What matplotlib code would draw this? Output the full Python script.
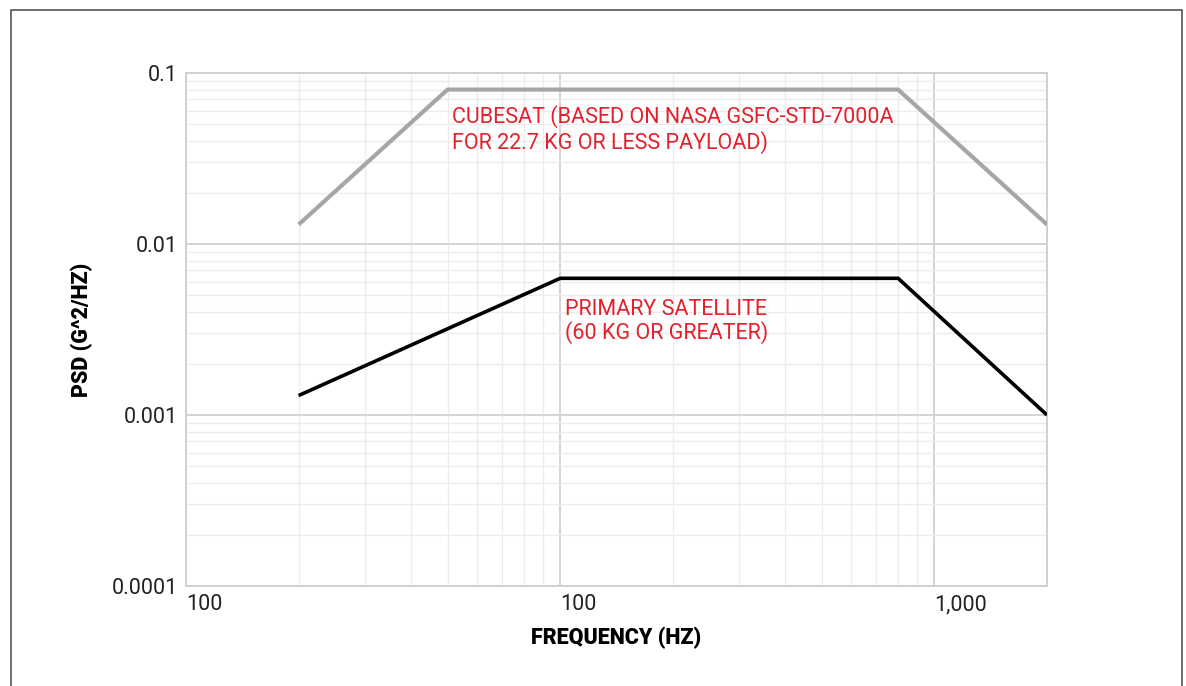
# Random vibration PSD levels: CubeSat vs primary satellite

import matplotlib.pyplot as plt
from matplotlib.lines import Line2D
from matplotlib.ticker import FixedLocator, LogLocator, NullFormatter

plt.rcParams['font.family'] = ['Roboto', 'DejaVu Sans']

# CubeSat (GSFC-STD-7000A style profile)
freq_cube = [20, 50, 800, 2000]
psd_cube = [0.013, 0.08, 0.08, 0.013]

# Primary satellite
freq_prim = [20, 100, 800, 2000]
psd_prim = [0.0013, 0.0063, 0.0063, 0.001]

x_ticks = [10, 100, 1000]
x_labels = ['100', '100', '1,000']
y_ticks = [0.0001, 0.001, 0.01, 0.1]
y_labels = ['0.0001', '0.001', '0.01', '0.1']

W, H = 1186, 686
fig = plt.figure(figsize=(W / 100, H / 100), dpi=100)
ax = fig.add_axes([186 / W, 1 - 586 / H, (1047 - 186) / W, (586 - 73) / H])

ax.set_xscale('log')
ax.set_yscale('log')
ax.set_xlim(10, 2000)
ax.set_ylim(0.0001, 0.1)

ax.plot(freq_cube, psd_cube, color='#a6a6a6', lw=3, solid_capstyle='butt', zorder=3)
ax.plot(freq_prim, psd_prim, color='#000000', lw=2.6, solid_capstyle='butt', zorder=3)

ax.text(51.5, 0.065, 'CUBESAT (BASED ON NASA GSFC-STD-7000A\nFOR 22.7 KG OR LESS PAYLOAD)',
        color='#e3202b', fontsize=15.5, va='top', ha='left', linespacing=1.15)
ax.text(103, 0.0048, 'PRIMARY SATELLITE\n(60 KG OR GREATER)',
        color='#e3202b', fontsize=15.5, va='top', ha='left', linespacing=1.1)

ax.xaxis.set_major_locator(FixedLocator(x_ticks))
ax.set_xticklabels(x_labels)
ax.yaxis.set_major_locator(FixedLocator(y_ticks))
ax.set_yticklabels(y_labels)
ax.xaxis.set_minor_locator(LogLocator(base=10, subs=range(2, 10), numticks=20))
ax.yaxis.set_minor_locator(LogLocator(base=10, subs=range(2, 10), numticks=20))
ax.xaxis.set_minor_formatter(NullFormatter())
ax.yaxis.set_minor_formatter(NullFormatter())

for lbl in ax.get_xticklabels():
    lbl.set_horizontalalignment('left')
    lbl.set_x(lbl.get_position()[0])

ax.tick_params(which='both', length=0, labelsize=15.5, colors='#222222')
ax.tick_params(axis='x', pad=6)
ax.tick_params(axis='y', pad=6)

ax.grid(which='major', color='#d4d4d4', lw=1.4)
ax.grid(which='minor', color='#ececec', lw=1.0)
ax.set_axisbelow(True)
for s in ax.spines.values():
    s.set_color('#d0d0d0')
    s.set_linewidth(1.4)

ax.set_xlabel('FREQUENCY (HZ)', fontsize=15.5, fontweight='black', labelpad=8)
ax.set_ylabel('PSD (G^2/HZ)', fontsize=15.5, fontweight='black', labelpad=13)

# outer frame (left, top, right)
fx = [10.5 / W, 10.5 / W, 1181.5 / W, 1181.5 / W]
fy = [0, 1 - 9.5 / H, 1 - 9.5 / H, 0]
fig.add_artist(Line2D(fx, fy, color='#555555', lw=1.2, transform=fig.transFigure))

fig.savefig('out.png', dpi=100)
